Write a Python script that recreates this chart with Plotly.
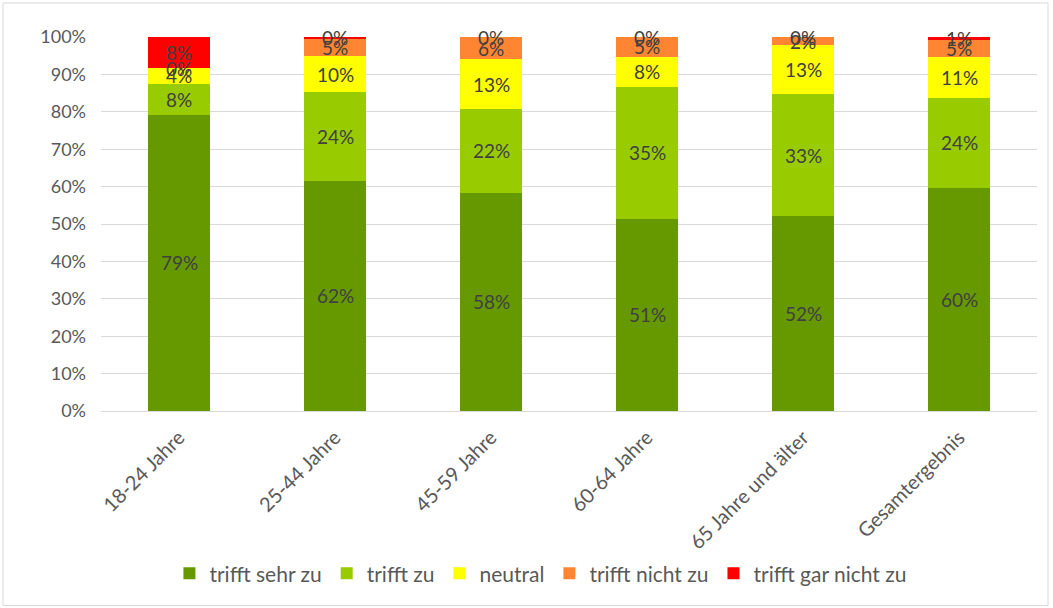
import plotly.graph_objects as go

categories = ["18-24 Jahre", "25-44 Jahre", "45-59 Jahre", "60-64 Jahre",
              "65 Jahre und älter", "Gesamtergebnis"]
series_names = ["trifft sehr zu", "trifft zu", "neutral", "trifft nicht zu",
                "trifft gar nicht zu"]
trifft_sehr_zu = [0.792, 0.616, 0.584, 0.514, 0.521, 0.597]
trifft_zu = [0.083, 0.236, 0.223, 0.352, 0.326, 0.240]
neutral = [0.042, 0.097, 0.133, 0.081, 0.131, 0.110]
trifft_nicht_zu = [0.000, 0.047, 0.060, 0.053, 0.022, 0.046]
trifft_gar_nicht_zu = [0.083, 0.004, 0.000, 0.000, 0.000, 0.007]
colors = ["#669900", "#99CC00", "#FFFF00", "#FF8533", "#FF0000"]
y_ticks = [i / 10 for i in range(11)]

series = [trifft_sehr_zu, trifft_zu, neutral, trifft_nicht_zu, trifft_gar_nicht_zu]
FONT = "Lato"

fig = go.Figure()
for name, vals, col in zip(series_names, series, colors):
    fig.add_trace(go.Bar(x=categories, y=vals, name=name, marker_color=col,
                         marker_line_width=0, hoverinfo="skip"))

# value labels centred in each stacked segment
base = [0.0] * len(categories)
for vals in series:
    for i, (c, v) in enumerate(zip(categories, vals)):
        fig.add_annotation(x=c, y=base[i] + v / 2, xref="x", yref="y",
                           text=f"{round(v * 100)}%", showarrow=False,
                           font=dict(family=FONT, size=19, color="#404040"))
        base[i] += v

fig.update_layout(
    barmode="stack",
    bargap=0.6,
    width=1053, height=608,
    margin=dict(l=101, r=16, t=37, b=197),
    paper_bgcolor="white", plot_bgcolor="white",
    font=dict(family=FONT, size=17, color="#595959"),
    legend=dict(orientation="h", x=0.47, xanchor="center", y=-0.435,
                yanchor="middle", font=dict(family=FONT, size=21, color="#595959"),
                traceorder="normal", itemwidth=30),
    showlegend=True,
)
fig.update_yaxes(range=[0, 1], tickvals=y_ticks, tickformat=".0%",
                 showgrid=True, gridcolor="#D9D9D9", gridwidth=1,
                 zeroline=False, ticks="", showline=False, ticklabelstandoff=14,
                 tickfont=dict(family=FONT, size=18, color="#595959"))
fig.update_xaxes(tickangle=-45, showline=True, linecolor="#D9D9D9", linewidth=1,
                 ticks="", ticklabelstandoff=6,
                 tickfont=dict(family=FONT, size=20, color="#595959"))
fig.add_shape(type="rect", xref="paper", yref="paper", x0=-0.1047, x1=1.0118,
              y0=-0.52, y1=1.091, line=dict(color="#D9D9D9", width=1))

fig.write_html("out.html")
